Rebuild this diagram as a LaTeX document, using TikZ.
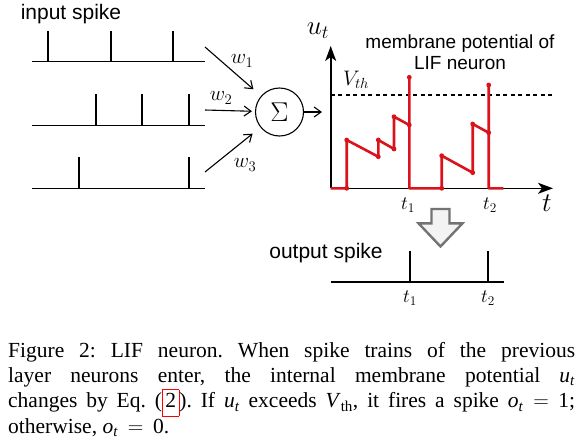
\documentclass[tikz,border=0pt]{standalone}
\usepackage{fix-cm}
\usepackage[no-math]{fontspec}
\setmainfont{Liberation Serif}
\setsansfont{Liberation Sans}
\usetikzlibrary{arrows.meta}
\definecolor{spred}{RGB}{218,18,28}
\definecolor{arrgray}{RGB}{115,115,115}
\definecolor{arrfill}{RGB}{243,243,243}
\newcommand{\tsub}[2]{\textit{#1}\textsubscript{\textit{#2}}}
\newcommand{\teq}{\hspace{0.45em}$=$\hspace{0.45em}}
\begin{document}
\begin{tikzpicture}[x=1pt,y=-1pt,
  spk/.style={line width=1.3pt},
  warrow/.style={line width=1.1pt,-{Straight Barb[length=7pt,width=10pt]}},
  axisline/.style={line width=1.6pt,-{Stealth[length=15pt,width=11pt,inset=4pt]}},
  redline/.style={spred,line width=2.6pt,line join=round},
  sanslbl/.style={font=\sffamily\fontsize{21}{24}\selectfont,inner sep=0},
  memlbl/.style={font=\sffamily\fontsize{19}{21.5}\selectfont,inner sep=0,align=center},
  mathlbl/.style={inner sep=0,font=\fontsize{19}{19}\selectfont},
  vthlbl/.style={inner sep=0,font=\fontsize{21}{21}\selectfont},
  wlbl/.style={inner sep=0,font=\fontsize{21}{21}\selectfont},
  biglbl/.style={inner sep=0,font=\fontsize{27}{27}\selectfont},
  dot/.style={spred},
]
\useasboundingbox (0,0) rectangle (584,445);

% input spike trains
\node[sanslbl] (inlbl) at (71,14) {input spike};
\draw[spk] (32,61.3) -- (205,61.3);
\foreach \x in {48,111,173} \draw[spk] (\x,61.3) -- (\x,31);
\draw[spk] (32,125.3) -- (205,125.3);
\foreach \x in {96,142,189} \draw[spk] (\x,125.3) -- (\x,94);
\draw[spk] (32,188.7) -- (205,188.7);
\foreach \x in {79,189} \draw[spk] (\x,188.7) -- (\x,157);

% summation node
\node[circle,draw,line width=1.1pt,minimum size=48pt,inner sep=0] (sum) at (279.5,112)
  {\scalebox{1.36}{\fontsize{20}{20}\selectfont$\Sigma$}};
\coordinate (w1s) at (205,47);
\coordinate (w2s) at (205,110);
\coordinate (w3s) at (205,172);
\draw[warrow,shorten >=10pt] (w1s) -- (sum);
\draw[warrow,shorten >=3pt] (w2s) -- (sum);
\draw[warrow,shorten >=10pt] (w3s) -- (sum);
\node[wlbl] (w1) at (242,61) {$w_1$};
\node[wlbl] (w2) at (221,98) {$w_2$};
\node[wlbl] (w3) at (245,165) {$w_3$};
\coordinate (outend) at (322,112);
\draw[warrow] (sum.east) -- (outend);

% axes
\coordinate (O) at (330.7,188.3);
\coordinate (ytop) at (330.7,46);
\coordinate (xend) at (553,188.3);
\draw[axisline] (O) -- (ytop);
\draw[axisline] (O) -- (xend);
\node[biglbl] (ut) at (318,31) {$u_t$};
\node[biglbl] (tl) at (547,203) {$t$};
\node[memlbl] (mem) at (460,52) {membrane potential of\\LIF neuron};
\node[vthlbl] (vth) at (356,80) {$V_{th}$};
\draw[line width=1.1pt,dash pattern=on 4pt off 3.5pt] (330.7,95) -- (552,95);

% membrane potential trace
\draw[redline] (330.7,188.3) -- (346.7,188.3) -- (346.7,140) -- (378.3,156.7) -- (378.3,140)
  -- (394,149) -- (394,116.7) -- (409.3,125) -- (409.3,77.3) -- (409.3,188.3)
  -- (441.7,188.3) -- (441.7,155.7) -- (472.7,172.7) -- (472.7,124) -- (488.7,132.7)
  -- (488.7,85) -- (488.7,188.3) -- (503.3,188.3);
\foreach \p in {(346.7,188.3),(346.7,140),(378.3,156.7),(378.3,140),(394,149),(394,116.7),
  (409.3,125),(409.3,77.3),(441.7,188.3),(441.7,155.7),(472.7,172.7),(472.7,124),
  (488.7,132.7),(488.7,85)}
  \fill[dot] \p circle (2.4pt);
\node[mathlbl] (t1a) at (408,205) {$t_1$};
\node[mathlbl] (t2a) at (490,205) {$t_2$};

% hollow down arrow
\draw[arrgray,fill=arrfill,line width=2.4pt,line join=miter]
  (431.5,209) -- (449.5,209) -- (449.5,223.3) -- (462.5,223.3) -- (440.5,246.5)
  -- (418.5,223.3) -- (431.5,223.3) -- cycle;

% output spike
\node[sanslbl] (outlbl) at (326,253) {output spike};
\draw[spk] (331,282) -- (504,282);
\foreach \x in {410,488} \draw[spk] (\x,282) -- (\x,251);
\node[mathlbl] (t1b) at (410,298) {$t_1$};
\node[mathlbl] (t2b) at (488,298) {$t_2$};

% caption
\node[anchor=north west,inner sep=0,text width=567pt,align=justify,
  font=\fontsize{21.5}{25.3}\selectfont\frenchspacing] (cap) at (8,342)
  {Figure 2: LIF neuron. When spike trains of the previous\linebreak
   layer neurons enter, the internal membrane potential \tsub{u}{t}\linebreak
   changes by Eq. ({\fboxsep=0pt\fboxrule=0.8pt\fcolorbox{red}{white}{\hspace{2.5pt}\strut 2\hspace{2.5pt}}}). If \tsub{u}{t} exceeds \textit{V}\textsubscript{th}, it fires a spike \tsub{o}{t}\teq 1;\linebreak
   otherwise, \tsub{o}{t}\teq 0.};
\end{tikzpicture}
\end{document}
